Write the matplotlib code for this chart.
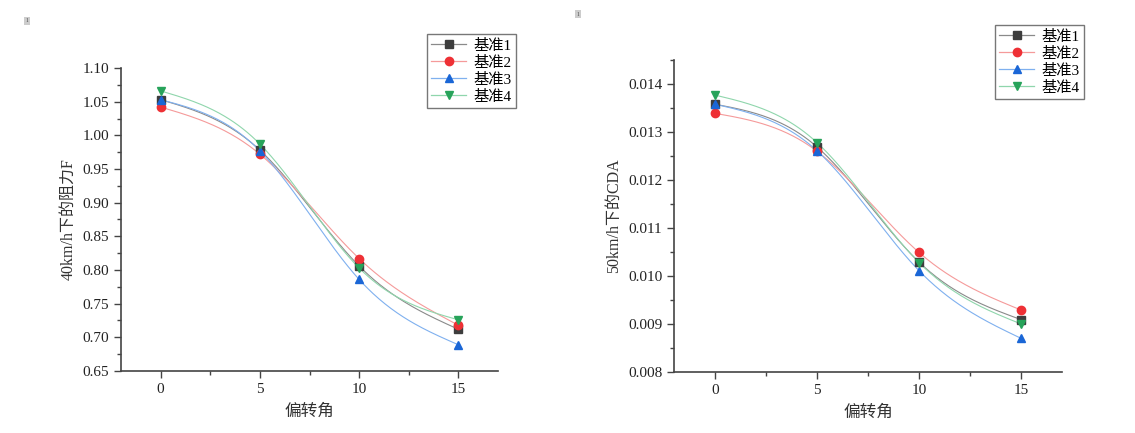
import numpy as np
import matplotlib
matplotlib.use('Agg')
from matplotlib import pyplot as plt
from matplotlib.ticker import MultipleLocator, FormatStrFormatter

plt.rcParams['font.family'] = ['Liberation Serif', 'Noto Sans CJK SC', 'DejaVu Sans']

# data
angles = [0, 5, 10, 15]
names = ['基准1', '基准2', '基准3', '基准4']

force_40 = [
    [1.053, 0.978, 0.806, 0.712],
    [1.042, 0.972, 0.817, 0.718],
    [1.053, 0.977, 0.786, 0.689],
    [1.066, 0.987, 0.803, 0.726],
]
cda_50 = [
    [0.01358, 0.01269, 0.01029, 0.00909],
    [0.01339, 0.01260, 0.01049, 0.00929],
    [0.01358, 0.01261, 0.01011, 0.00870],
    [0.01377, 0.01278, 0.01028, 0.00900],
]

marker_colors = ['#3d3d3d', '#ee3035', '#1a66d6', '#27a35a']
line_colors = ['#8a8a8a', '#f59a9a', '#7fb0ef', '#8fd6ac']
markers = ['s', 'o', '^', 'v']


def natural_spline(x, y, n=200):
    x = np.asarray(x, float)
    y = np.asarray(y, float)
    k = len(x)
    h = np.diff(x)
    A = np.zeros((k, k))
    b = np.zeros(k)
    A[0, 0] = A[-1, -1] = 1
    for i in range(1, k - 1):
        A[i, i - 1] = h[i - 1]
        A[i, i] = 2 * (h[i - 1] + h[i])
        A[i, i + 1] = h[i]
        b[i] = 6 * ((y[i + 1] - y[i]) / h[i] - (y[i] - y[i - 1]) / h[i - 1])
    m = np.linalg.solve(A, b)
    xs = np.linspace(x[0], x[-1], n)
    idx = np.clip(np.searchsorted(x, xs) - 1, 0, k - 2)
    x0, x1 = x[idx], x[idx + 1]
    hh = x1 - x0
    t0, t1 = x1 - xs, xs - x0
    ys = (m[idx] * t0**3 + m[idx + 1] * t1**3) / (6 * hh) \
        + (y[idx] / hh - m[idx] * hh / 6) * t0 \
        + (y[idx + 1] / hh - m[idx + 1] * hh / 6) * t1
    return xs, ys


def draw(ax, data, ylabel, ylim, major, minor, fmt, legend_anchor):
    handles = []
    for vals, name, mc, lc, mk in zip(data, names, marker_colors, line_colors, markers):
        xs, ys = natural_spline(angles, vals)
        ax.plot(xs, ys, color=lc, lw=0.8, zorder=2)
        ax.plot(angles, vals, ls='none', marker=mk, color=mc, ms=6, zorder=3)
        h, = ax.plot([], [], color=lc, lw=0.9, marker=mk, mfc=mc, mec=mc, ms=6, label=name)
        handles.append(h)

    ax.set_xlim(-2, 17)
    ax.set_ylim(*ylim)
    ax.xaxis.set_major_locator(MultipleLocator(5))
    ax.xaxis.set_minor_locator(MultipleLocator(2.5))
    ax.yaxis.set_major_locator(MultipleLocator(major))
    ax.yaxis.set_minor_locator(MultipleLocator(minor))
    ax.yaxis.set_major_formatter(FormatStrFormatter(fmt))
    for s in ['top', 'right']:
        ax.spines[s].set_visible(False)
    for s in ['left', 'bottom']:
        ax.spines[s].set_color('#444444')
        ax.spines[s].set_linewidth(1.2)
    ax.tick_params(which='major', length=5, width=1, color='#444444',
                   labelsize=11, labelcolor='#222222')
    ax.tick_params(which='minor', length=3, width=1, color='#444444')
    ax.set_xlabel('偏转角', fontsize=12, color='#333333', labelpad=6)
    ax.set_ylabel(ylabel, fontsize=11.5, color='#333333', labelpad=4)

    leg = ax.legend(handles=handles, loc='upper right', bbox_to_anchor=legend_anchor,
                    bbox_transform=ax.figure.transFigure, fontsize=11,
                    frameon=True, fancybox=False, borderpad=0.3, labelspacing=0.2,
                    handlelength=2.3, handletextpad=0.45, borderaxespad=0)
    leg.get_frame().set_edgecolor('#555555')
    leg.get_frame().set_linewidth(1.0)


fig = plt.figure(figsize=(11.35, 4.33), dpi=100)
W, H = 1135, 433
ax1 = fig.add_axes([121 / W, 1 - 371 / H, (498 - 121) / W, (371 - 68) / H])
ax2 = fig.add_axes([674 / W, 1 - 372 / H, (1062 - 674) / W, (372 - 60) / H])

draw(ax1, force_40, '40km/h下的阻力F', (0.65, 1.10), 0.05, 0.025, '%.2f',
     (516 / W, 1 - 34 / H))
draw(ax2, cda_50, '50km/h下的CDA', (0.008, 0.0145), 0.001, 0.0005, '%.3f',
     (1084 / W, 1 - 25 / H))

# small page markers
for x, y in [(27 / W, 1 - 21 / H), (578 / W, 1 - 14 / H)]:
    fig.text(x, y, '1', fontsize=4, color='#444444', ha='center', va='center',
             bbox=dict(boxstyle='square,pad=0.3', fc='#cccccc', ec='none'))

fig.savefig('out.png', dpi=100)
